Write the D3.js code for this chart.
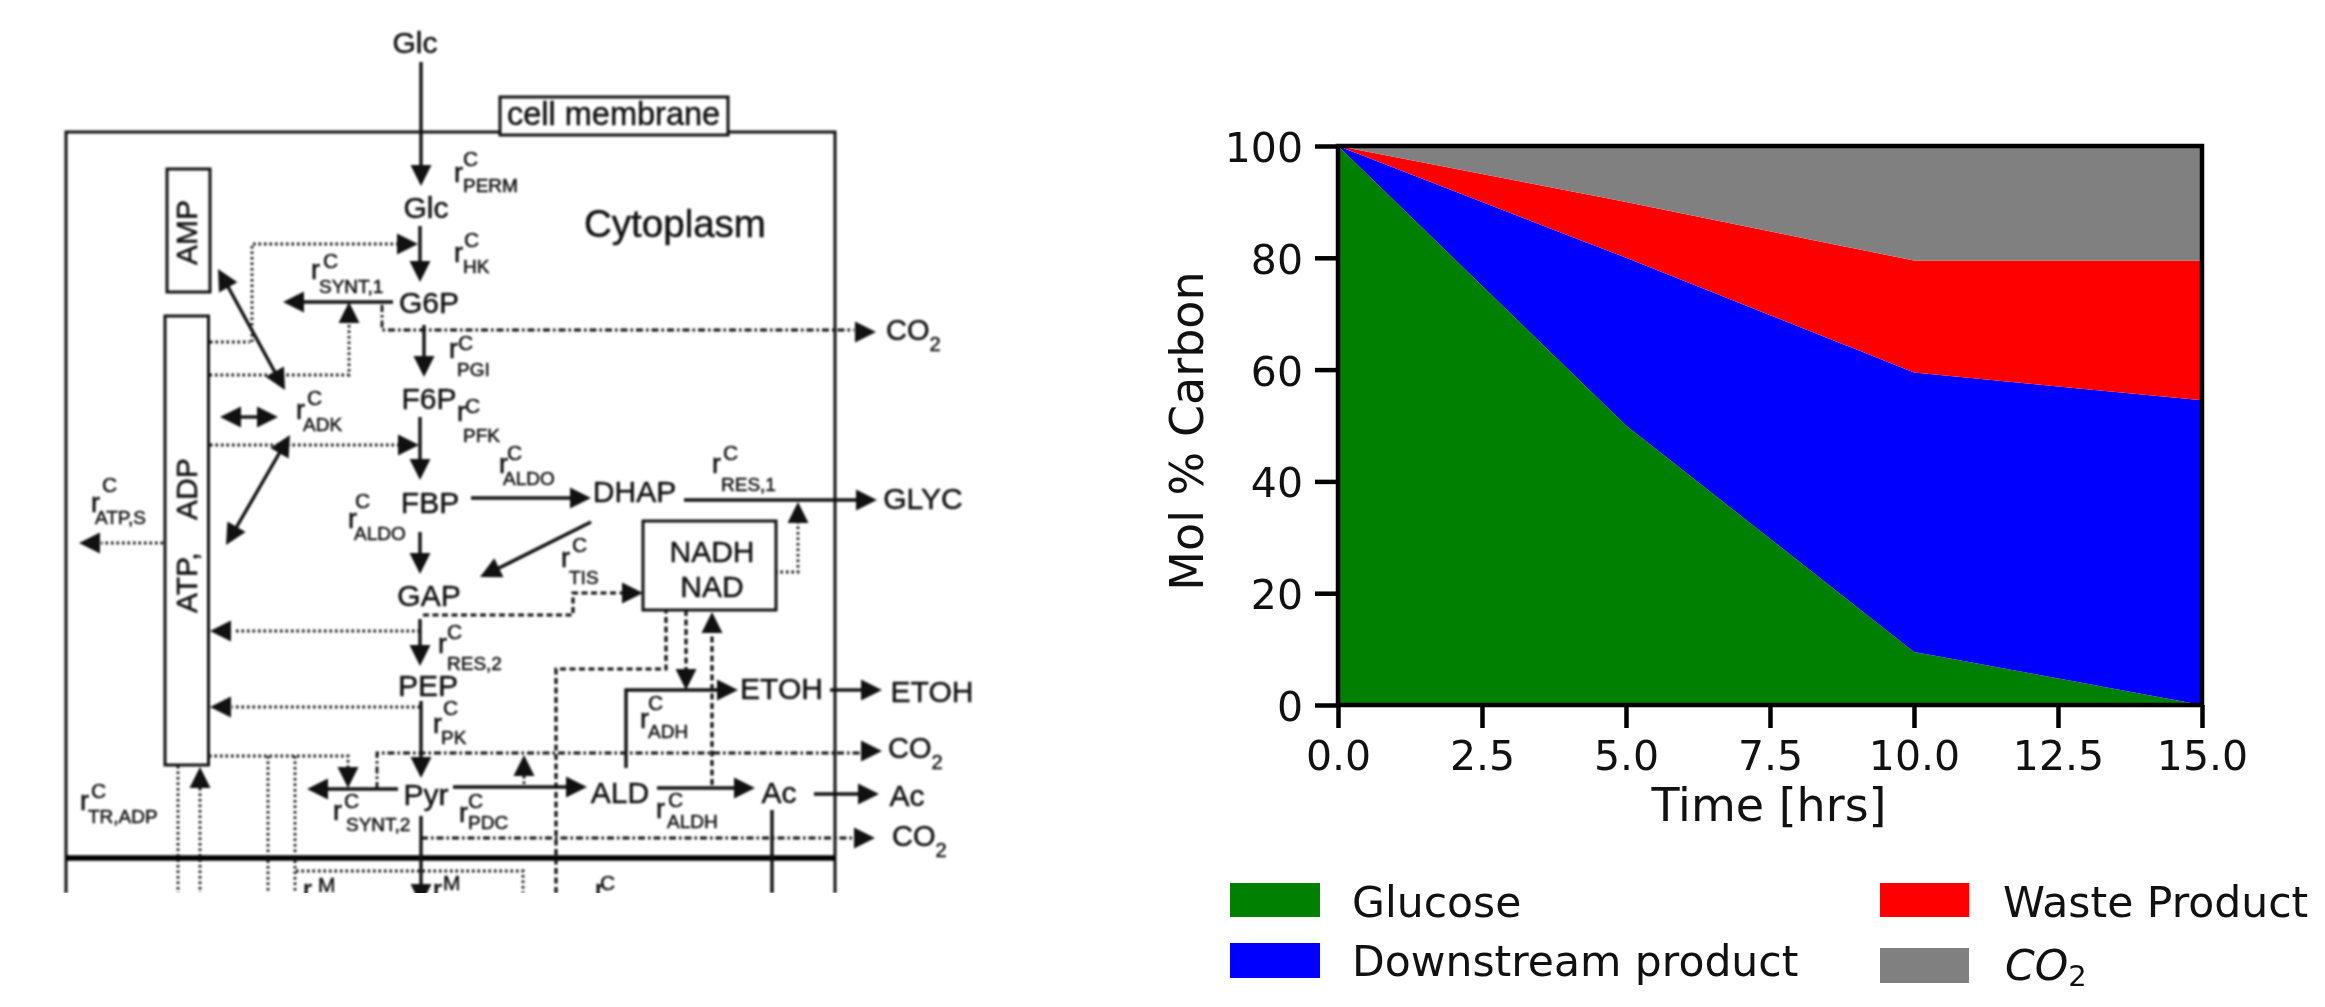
<!DOCTYPE html>
<html><head><meta charset="utf-8">
<style>
html,body{margin:0;padding:0;background:#fff;overflow:hidden}
svg{display:block}
</style>
<script src="https://cdn.jsdelivr.net/npm/d3@7/dist/d3.min.js"></script>
</head><body>
<svg id="root" width="2325" height="1007"></svg>
<script>
// ---------- chart data ----------
const timeHours   = [0, 5, 10, 15];
const glucose     = [100, 50, 9.5, 0];
const downstream  = [0, 30, 50, 54.5];
const waste       = [0, 10, 20, 25];
const co2         = [0, 10, 20.5, 20.5];
const seriesNames = ["Glucose", "Downstream product", "Waste Product", "CO2"];
const seriesColors= ["#008000", "#0000ff", "#ff0000", "#808080"];
const xTicks      = [0, 2.5, 5, 7.5, 10, 12.5, 15];
const yTicks      = [0, 20, 40, 60, 80, 100];

// ---------- diagram content ----------
const metabolites = [
  ["Glc",415,53],["Glc",426,218],["G6P",429,313],["F6P",429,409],["FBP",430,513],["GAP",429,606],
  ["PEP",428,696],["Pyr",426,805],["DHAP",634.5,502],["GLYC",923,509],["ETOH",781.5,699],["ETOH",932,702],
  ["ALD",620,803],["Ac",779,803],["Ac",907,806],["NADH",712,562],["NAD",712,597]
];
const fluxLabels = [
  // sub, rx, ry, cx, cy, sx, sy, sup
  ["PERM",454,182,463,166,463,192],["HK",454,262,464,247,463,273],["SYNT,1",311,279,323,268,319,293],
  ["PGI",449,358,458,350,457,376],["ADK",296,419,307,405,303,431],["PFK",457,421,465,413,463,442],
  ["ALDO",499,473,507,460,503,485],["RES,1",712,473,723,460,721,491],["ALDO",348,528,355,508,354,540],
  ["TIS",561,567,572,552,569,584],["RES,2",438,653,447,639,447,670],["PK",433,733,443,715,441,744],
  ["ADH",640,728,648,710,648,738],["ATP,S",91,512,102,492,95,524],["TR,ADP",80,810,91,798,88,823],
  ["SYNT,2",333,820,344,808,346,831],["PDC",459,822,468,808,468,829],["ALDH",656,818,668,807,667,828],
  ["",303,899,318,892,0,0,"M"],["",433,899,443,890,0,0,"M"],["",595,899,600,890,0,0,"C"]
];
const co2Labels = [[886,340],[888,758],[892,846]];

const solidLines = [
  [[421,62],[421,170]],[[420,226],[420,265]],[[424,325],[424,360]],[[420,417],[420,465]],
  [[420,532],[420,558]],[[420,619],[420,650]],[[421,701],[421,760]],[[421,816],[421,893]],
  [[393,302],[300,302]],[[226,283],[277,376]],[[236,417],[262,417]],[[280,452],[236,528]],
  [[471,498],[570,498]],[[684,500],[860,500]],[[591,522],[497,569]],[[398,789],[325,789]],
  [[453,787],[570,787]],[[626,768],[626,690],[720,690]],[[830,690],[862,690]],[[657,788],[735,788]],
  [[814,794],[860,794]],[[772,810],[772,893]]
];
const dottedLines = [
  [[349,325],[349,375],[210,375]],[[210,342],[250,342]],[[252,342],[252,244],[398,244]],[[210,445],[400,445]],
  [[798,521],[798,572],[777,572]],[[420,631],[233,631]],[[420,707],[232,707]],[[163,543],[101,543]],
  [[209,756],[348,756],[348,767]],[[178,766],[178,893]],[[200,788],[200,893]],[[268,756],[268,893]],
  [[295,756],[295,893]],[[296,871],[523,871],[523,893]],[[524,776],[524,787]]
];
const dashedLines = [
  [[423,615],[573,615],[573,593],[623,593]],[[556,893],[556,669],[666,669],[666,610]],
  [[686,610],[686,673]],[[712,785],[712,632]]
];
const dashDotLines = [
  [[382,305],[382,330],[854,330]],[[377,789],[377,753],[860,753]],[[421,838],[853,838]]
];
const arrowHeads = [ // tip x, tip y, direction in degrees (0 = right, 90 = down)
  [421,186,90],[420,282,90],[424,377,90],[420,480,90],[420,574,90],[420,666,90],[421,778,90],[421,905,90],
  [283,302,180],[349,302,-90],[418,244,0],[218,269,-119],[285,390,61],[220,417,180],[278,417,0],
  [290,435,-60],[226,545,120],[419,445,0],[876,332,0],[591,498,0],[877,500,0],[798,502,-90],
  [480,577,154],[643,593,0],[210,631,180],[210,707,180],[79,543,180],[348,788,90],[307,789,180],
  [882,751,0],[200,767,-90],[587,787,0],[524,755,-90],[686,690,90],[712,612,-90],[738,690,0],
  [882,690,0],[755,788,0],[879,794,0],[875,838,0]
];

// ---------- drawing ----------
const svg = d3.select("#root");
const DIAGRAM_FONT = "'Liberation Sans',Arial,sans-serif";
const CHART_FONT = "'DejaVu Sans',sans-serif";
const defs = svg.append("defs");
defs.append("clipPath").attr("id","cut").append("rect").attr("x",0).attr("y",0).attr("width",1100).attr("height",893);
defs.append("filter").attr("id","soft1").attr("color-interpolation-filters","sRGB").attr("x","-2%").attr("y","-2%").attr("width","104%").attr("height","104%")
    .append("feGaussianBlur").attr("stdDeviation",0.9);
defs.append("filter").attr("id","soft2").attr("color-interpolation-filters","sRGB").attr("filterUnits","userSpaceOnUse").attr("x",1100).attr("y",0).attr("width",1225).attr("height",1007)
    .append("feGaussianBlur").attr("stdDeviation",0.65);

// left panel: pathway scheme
const dg = svg.append("g").attr("clip-path","url(#cut)").append("g").attr("filter","url(#soft1)")
  .attr("font-family",DIAGRAM_FONT).attr("fill","#111");
const lineGen = d3.line();
function drawLines(rows,width,dash,color){
  dg.append("g").selectAll("path").data(rows).join("path")
    .attr("d",lineGen).attr("fill","none").attr("stroke",color||"#111")
    .attr("stroke-width",width).attr("stroke-dasharray",dash);
}
// membrane
drawLines([[[66,893],[66,132],[835,132],[835,893]]],3,null);
drawLines([[[66,858],[835,858]]],5.5,null,"#000");
// boxes
dg.append("g").selectAll("rect").data([[167,169,43,123],[165,316,43.5,449],[643,521,133,89],[500,97,228,38]])
  .join("rect").attr("x",d=>d[0]).attr("y",d=>d[1]).attr("width",d=>d[2]).attr("height",d=>d[3])
  .attr("fill","#fff").attr("stroke","#111").attr("stroke-width",3);
drawLines(solidLines,3.4,null);
drawLines(dottedLines,2.8,"2.5 3");
drawLines(dashedLines,3.2,"6 3.5");
drawLines(dashDotLines,2.8,"7 3 2.5 3");
dg.append("g").selectAll("path").data(arrowHeads).join("path")
  .attr("d","M0,0L-21,-10.5L-21,10.5Z").attr("fill","#111")
  .attr("transform",d=>`translate(${d[0]},${d[1]}) rotate(${d[2]})`);
// text
const textLayer = dg.append("g").attr("stroke","#111").attr("stroke-width",0.5);
textLayer.append("g").attr("font-size",30).attr("text-anchor","middle").selectAll("text").data(metabolites).join("text")
  .attr("x",d=>d[1]).attr("y",d=>d[2]).text(d=>d[0]);
textLayer.append("text").attr("x",675).attr("y",237).attr("font-size",38.5).attr("text-anchor","middle").text("Cytoplasm");
textLayer.append("text").attr("x",507).attr("y",125).attr("font-size",32.5).text("cell membrane");
[["AMP",197,265],["ATP,",197,613],["ADP",197,520]].forEach(([t,x,y])=>{
  textLayer.append("text").attr("transform",`translate(${x},${y}) rotate(-90)`).attr("font-size",30).text(t);
});
const flux = textLayer.append("g").selectAll("g").data(fluxLabels).join("g");
flux.append("text").attr("x",d=>d[1]).attr("y",d=>d[2]).attr("font-size",27).text("r");
flux.append("text").attr("x",d=>d[3]).attr("y",d=>d[4]).attr("font-size",21).text(d=>d[7]||"C");
flux.append("text").attr("x",d=>d[5]).attr("y",d=>d[6]).attr("font-size",19).text(d=>d[0]);
const co2Text = textLayer.append("g").selectAll("text").data(co2Labels).join("text")
  .attr("x",d=>d[0]).attr("y",d=>d[1]).attr("font-size",29);
co2Text.append("tspan").text("CO");
co2Text.append("tspan").attr("font-size",20).attr("dy",11).text("2");

// right panel: stacked area chart
const chart = svg.append("g").attr("filter","url(#soft2)").attr("font-family",CHART_FONT);
const x = d3.scaleLinear().domain([0,15]).range([1338,2202]);
const y = d3.scaleLinear().domain([0,100]).range([705,146]);
const rows = timeHours.map((t,i)=>({t, a:glucose[i], b:downstream[i], c:waste[i], d:co2[i]}));
const stacked = d3.stack().keys(["a","b","c","d"])(rows);
const area = d3.area().x(d=>x(d.data.t)).y0(d=>y(d[0])).y1(d=>y(d[1]));
chart.append("g").selectAll("path").data(stacked).join("path")
  .attr("d",area).attr("fill",(d,i)=>seriesColors[i]);

const xAxis = chart.append("g").attr("transform",`translate(0,${y(0)})`)
  .call(d3.axisBottom(x).tickValues(xTicks).tickFormat(d3.format(".1f")).tickSize(23).tickPadding(13));
const yAxis = chart.append("g").attr("transform",`translate(${x(0)},0)`)
  .call(d3.axisLeft(y).tickValues(yTicks).tickFormat(d3.format("d")).tickSize(23).tickPadding(12));
[xAxis,yAxis].forEach(a=>{
  a.select(".domain").remove();
  a.selectAll("line").attr("stroke","#000").attr("stroke-width",4.5);
  a.selectAll("text").attr("font-family",CHART_FONT).attr("font-size",41).attr("fill","#111");
});
yAxis.selectAll("text").attr("dy",".38em");
chart.append("rect").attr("x",x(0)).attr("y",y(100)).attr("width",x(15)-x(0)).attr("height",y(0)-y(100))
  .attr("fill","none").attr("stroke","#000").attr("stroke-width",4.5);
chart.append("text").attr("x",1769).attr("y",821).attr("text-anchor","middle").attr("font-size",46).attr("fill","#111").text("Time [hrs]");
chart.append("text").attr("transform","translate(1203,431) rotate(-90)").attr("text-anchor","middle").attr("font-size",46).attr("fill","#111").text("Mol % Carbon");

// legend
const legendSlots = [[1230,883,90,34,1352,917],[1230,943,90,35,1352,976],[1880,883,89,34,2003,917],[1880,948,89,35,2005,980]];
const legend = chart.append("g").selectAll("g").data(seriesNames).join("g");
legend.append("rect").attr("x",(d,i)=>legendSlots[i][0]).attr("y",(d,i)=>legendSlots[i][1])
  .attr("width",(d,i)=>legendSlots[i][2]).attr("height",(d,i)=>legendSlots[i][3]).attr("fill",(d,i)=>seriesColors[i]);
const ltext = legend.append("text").attr("x",(d,i)=>legendSlots[i][4]).attr("y",(d,i)=>legendSlots[i][5])
  .attr("font-size",42.5).attr("fill","#111");
ltext.filter(d=>d!=="CO2").text(d=>d);
const co2Leg = ltext.filter(d=>d==="CO2");
co2Leg.append("tspan").attr("font-style","italic").text("CO");
co2Leg.append("tspan").attr("font-size",29).attr("dy",6).text("2");
</script>
</body></html>
